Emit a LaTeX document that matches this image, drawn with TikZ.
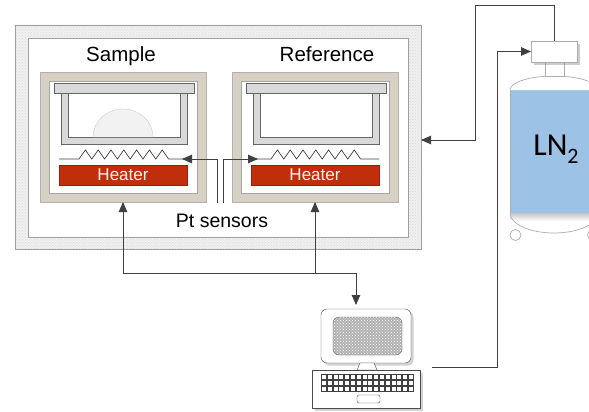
\documentclass[tikz,border=0pt]{standalone}
\usepackage{fontspec}
\setmainfont{Liberation Sans}
\newfontfamily\tankfont{Carlito}
\usetikzlibrary{arrows.meta,shadows,patterns}

\definecolor{heatred}{RGB}{192,46,12}
\definecolor{panbeige}{RGB}{216,209,195}
\definecolor{lnblue}{RGB}{156,194,229}

\begin{document}
\begin{tikzpicture}[
        x=1pt, y=-1pt,
        box/.style={
            rectangle,
            inner sep=0pt,
            outer sep=0pt
        },
        wall/.style={
            box,
            draw=gray!75,
            preaction={fill=gray!12},
            pattern=crosshatch dots,
            pattern color=gray!30
        },
        cell/.style={
            box,
            draw=gray!60,
            fill=panbeige,
            minimum width=166,
            minimum height=130
        },
        pan/.style={
            box,
            draw=black!60,
            fill=gray!30
        },
        heater/.style={
            box,
            draw=heatred!75!black,
            fill=heatred,
            text=orange!8,
            minimum width=128,
            minimum height=20,
            font=\fontsize{17}{17}\selectfont
        },
        lbl/.style={
            anchor=base,
            inner sep=0pt,
            font=\fontsize{20.5}{22}\selectfont
        },
        wire/.style={
            draw=black!75,
            line width=0.8pt
        },
        tankline/.style={
            draw=gray!65,
            line width=0.7pt
        },
        arrow/.style={
            draw=black!75,
            line width=0.9pt,
            -{Triangle[length=10pt,width=8.5pt]}
        }
    ]

        \clip (0,0) rectangle (589,412);

        % furnace with its wall
        \node[wall, minimum width=406, minimum height=224] (furnace) at (218,137) {};
        \node[box, draw=gray!75, fill=white, minimum width=380, minimum height=199] at (218,137.5) {};

        % the two cells
        \foreach \cx/\nm in {123/sample, 315/ref} {
            \node[cell] (\nm) at (\cx,137) {};
            \node[box, draw=gray!70, fill=white, minimum width=148, minimum height=112] at (\cx,137) {};
            \node[pan, minimum width=126, minimum height=51] (\nm-pan) at (\cx+1,118.5) {};
            \node[box, draw=black!60, fill=white, minimum width=112, minimum height=44] (\nm-cup) at (\cx+1,115) {};
            \node[pan, minimum width=140, minimum height=10] (\nm-lid) at (\cx+1,88) {};
            \node[heater] (\nm-heat) at (\cx,175) {Heater};
            \draw[wire, line width=0.7pt] (\cx-64,159) -- (\cx-44,159)
                foreach \k in {1,...,7} {-- ++(6.4,-9) -- ++(6.4,9)} -- (\cx+64,159);
        }
        \draw[draw=gray!40, fill=gray!10] (93,137) arc (180:360:30 and 28);

        \node[lbl] (sample-lbl) at (121,62) {Sample};
        \node[lbl] (ref-lbl) at (327,62) {Reference};
        \node[lbl, font=\fontsize{19.5}{22}\selectfont] (pt-lbl) at (222,227) {Pt sensors};

        % sensor leads
        \coordinate (p1) at (217,203);
        \coordinate (p2) at (223,203);
        \coordinate (sample-tap) at (182,159);
        \coordinate (ref-tap) at (258,159);
        \draw[arrow] (p1) |- (sample-tap);
        \draw[arrow] (p2) |- (ref-tap);

        % LN2 dewar
        \fill[lnblue] (510,90) rectangle (598,213);
        \draw[tankline] (510,90) -- (510,213);
        \filldraw[tankline, fill=white] (510,90) arc (180:360:44 and 14);
        \fill[white] (510,213) arc (180:0:44 and 20) -- cycle;
        \shade[top color=gray!45, bottom color=white] (510.4,213) rectangle (598,221);
        \draw[tankline] (510,213) arc (180:0:44 and 20);
        \draw[tankline, fill=white] (515.5,235) circle (5.5);
        \draw[tankline, fill=white] (593,235) circle (5.5);
        \draw[tankline, fill=white] (545,62) rectangle (564,76);
        \node[box, draw=gray!65, fill=white, drop shadow={opacity=0.4},
            minimum width=46, minimum height=21] (valve) at (554,51.5) {};
        \node[anchor=base, inner sep=0pt, font=\tankfont\fontsize{32}{32}\selectfont] (ln2)
            at (556,155) {LN\raisebox{-8pt}{\fontsize{22}{22}\selectfont 2}};

        % computer
        \node[box, draw=black!70, fill=white, rounded corners=6, drop shadow={opacity=0.35},
            minimum width=90, minimum height=54] (monitor) at (366,336) {};
        \node[box, draw=black!60, rounded corners=6, preaction={fill=gray!60},
            pattern=crosshatch dots, pattern color=white,
            minimum width=69, minimum height=38] (screen) at (367.5,336) {};
        \draw[draw=black!70, fill=white] (360,363) -- (374,363) -- (377,370) -- (357,370) -- cycle;
        \node[box, draw=black!70, fill=white, drop shadow={opacity=0.35},
            minimum width=108, minimum height=38] (keyboard) at (366,389) {};
        \fill[black!75] (321,374) rectangle (414,392);
        \foreach \i in {0,...,15} {
            \foreach \j in {0,...,2} {
                \fill[white] (321.9+\i*5.8,374.9+\j*6) rectangle ++(4.1,4.2);
            }
        }
        \draw[draw=black!70, rounded corners=1.5] (357,395) rectangle (380,403);

        % signal and control lines
        \coordinate (j) at (315,273);
        \coordinate (c1) at (475,5);
        \coordinate (c2) at (497,367);
        \draw[arrow] (j) -| (sample.south);
        \draw[arrow] (j) -- (ref.south);
        \draw[arrow] (j) -| ([xshift=-10pt,yshift=4pt]monitor.north);
        \draw[arrow] (valve.north) |- (c1) |- ([yshift=-3pt]furnace.east);
        \draw[arrow, shorten <=12pt] (keyboard.east |- c2) -- (c2) |- (valve.west);

    \end{tikzpicture}
\end{document}
